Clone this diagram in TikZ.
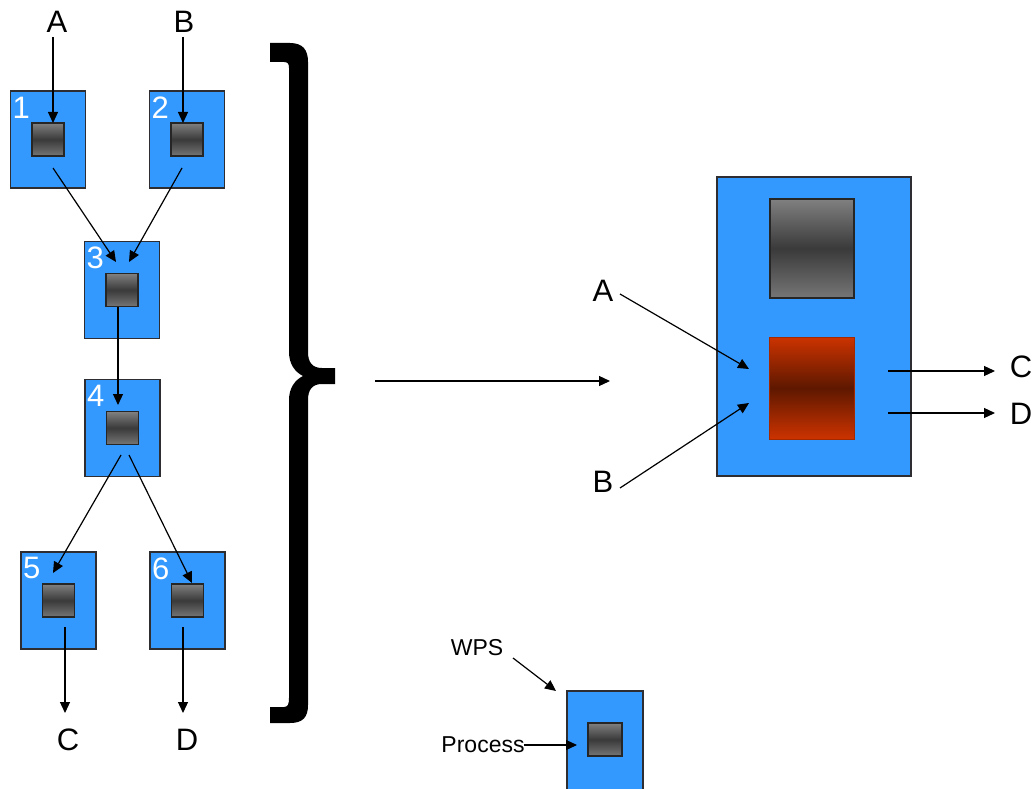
\documentclass[tikz,border=0pt]{standalone}
\usepackage{fontspec}
\setmainfont{Liberation Sans}
\usetikzlibrary{arrows.meta}
\definecolor{boxblue}{RGB}{51,153,255}
\definecolor{boxedge}{RGB}{45,45,50}
\definecolor{glight}{RGB}{128,128,128}
\definecolor{gdark}{RGB}{58,58,58}
\definecolor{rlight}{RGB}{204,51,0}
\definecolor{rdark}{RGB}{94,24,0}
\tikzset{
  wps/.style={draw=boxedge, line width=1.3pt, fill=boxblue, minimum width=75pt, minimum height=97pt, inner sep=0pt},
  proc/.style={draw=black!85, line width=1.2pt, top color=glight, bottom color=glight!92!black, middle color=gdark, minimum width=32pt, minimum height=33pt, inner sep=0pt},
  num/.style={text=white, font=\fontsize{31}{31}\selectfont, inner sep=0pt},
  lbl/.style={font=\fontsize{31}{31}\selectfont, inner sep=0pt},
  smalllbl/.style={font=\fontsize{23}{23}\selectfont, inner sep=0pt},
  arr/.style={line width=1.2pt, -{Triangle[length=11pt,width=10pt]}},
}
\begin{document}
\begin{tikzpicture}[x=1pt,y=-1pt]
\clip (0,0) rectangle (1036,789);
\fill[white] (0,0) rectangle (1036,789);

% ---------- left flow ----------
\node[wps] (b1) at (48,139.5) {};
\node[wps] (b2) at (187,139.5) {};
\node[wps] (b3) at (122,290) {};
\node[wps] (b4) at (122.5,428) {};
\node[wps] (b5) at (58.5,600.5) {};
\node[wps] (b6) at (187.5,600.5) {};

\foreach \i in {1,...,6}{
  \node[proc] (p\i) at (b\i.center) {};
  \node[num] (n\i) at ([xshift=11.5pt,yshift=-17pt]b\i.north west) {\i};
}

\node[lbl] (A1) at (57,22) {A};
\node[lbl] (B1) at (184,22) {B};
\node[lbl] (C1) at (68,740) {C};
\node[lbl] (D1) at (187,740) {D};

\coordinate (a1s) at (53,37);   \coordinate (a1e) at (53,123);
\coordinate (b1s) at (183,37);  \coordinate (b1e) at (183,123);
\coordinate (s13) at (53,168);  \coordinate (e13) at (116,262);
\coordinate (s23) at (182,168); \coordinate (e23) at (129,262);
\coordinate (s34) at (118,307); \coordinate (e34) at (118,405);
\coordinate (s45) at (121,455); \coordinate (e45) at (53,573);
\coordinate (s46) at (129,455); \coordinate (e46) at (192,583);
\coordinate (s5c) at (65,627);  \coordinate (e5c) at (65,713);
\coordinate (s6d) at (183,627); \coordinate (e6d) at (183,713);

\draw[arr] (a1s) -- (a1e);
\draw[arr] (b1s) -- (b1e);
\draw[arr] (s13) -- (e13);
\draw[arr] (s23) -- (e23);
\draw[arr] (s34) -- (e34);
\draw[arr] (s45) -- (e45);
\draw[arr] (s46) -- (e46);
\draw[arr] (s5c) -- (e5c);
\draw[arr] (s6d) -- (e6d);

% ---------- brace ----------
\fill[black] (270,43) -- (290,43) .. controls (303,43) and (308,50) .. (308,62)
  -- (308,352) .. controls (308,362) and (312,368) .. (322,368) -- (335,368)
  -- (335,384) -- (322,384) .. controls (312,384) and (308,390) .. (308,400)
  -- (308,705) .. controls (308,717) and (303,723) .. (290,723) -- (270,723)
  -- (270,707) -- (284,707) .. controls (288,707) and (289,704) .. (289,698)
  -- (289,400) .. controls (289,388) and (295,380) .. (303,376)
  .. controls (295,372) and (289,364) .. (289,352)
  -- (289,68) .. controls (289,64) and (288,62) .. (284,62) -- (270,62) -- cycle;

% ---------- main arrow ----------
\coordinate (ms) at (375,381);
\coordinate (me) at (610,381);
\draw[arr] (ms) -- (me);

% ---------- combined WPS ----------
\node[wps, minimum width=194pt, minimum height=299pt] (big) at (814,326.5) {};
\node[proc, minimum width=84pt, minimum height=99pt] (gp) at (812,248.5) {};
\node[draw=rlight!80!black, line width=0.6pt, top color=rlight, bottom color=rlight, middle color=rdark, minimum width=85pt, minimum height=102pt, inner sep=0pt] (rp) at (811.5,388) {};

\node[lbl] (A2) at (603,291) {A};
\node[lbl] (B2) at (603,482) {B};
\node[lbl] (C2) at (1021,367) {C};
\node[lbl] (D2) at (1021,414) {D};

\coordinate (a2s) at (620,294); \coordinate (a2e) at (749,369);
\coordinate (b2s) at (620,488); \coordinate (b2e) at (749,403);
\coordinate (c2s) at (888,371); \coordinate (c2e) at (995,371);
\coordinate (d2s) at (888,413); \coordinate (d2e) at (995,413);
\draw[arr] (a2s) -- (a2e);
\draw[arr] (b2s) -- (b2e);
\draw[arr] (c2s) -- (c2e);
\draw[arr] (d2s) -- (d2e);

% ---------- legend ----------
\node[wps, minimum width=76pt, minimum height=104pt] (lb) at (605,743) {};
\node[proc, minimum width=34pt] (lp) at (605,739.5) {};
\node[smalllbl] (wpst) at (477,648) {WPS};
\node[smalllbl] (proct) at (483,745) {Process};
\coordinate (ws) at (513,658); \coordinate (we) at (556,691);
\coordinate (ps) at (524,745); \coordinate (pe) at (577,745);
\draw[arr] (ws) -- (we);
\draw[arr] (ps) -- (pe);
\end{tikzpicture}
\end{document}
